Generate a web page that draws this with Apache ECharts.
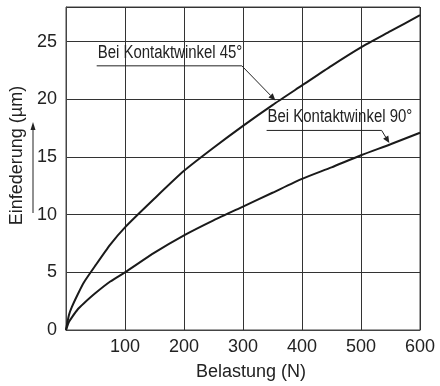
<!DOCTYPE html>
<html>
<head>
<meta charset="utf-8">
<script src="https://cdn.jsdelivr.net/npm/echarts@6/dist/echarts.min.js"></script>
<style>html,body{margin:0;padding:0;background:#fff;}#c{width:440px;height:386px;}</style>
</head>
<body>
<div id="c"></div>
<script>
// Data
const loads = [0, 5, 10, 20, 30, 50, 75, 100, 150, 200, 250, 300, 350, 400, 450, 500, 550, 600];
const angle45 = [0, 1.3, 2.0, 3.1, 4.1, 5.6, 7.4, 8.9, 11.4, 13.8, 15.8, 17.7, 19.5, 21.2, 22.9, 24.5, 25.9, 27.3];
const angle90 = [0, 0.7, 1.1, 1.8, 2.3, 3.2, 4.2, 5.0, 6.7, 8.2, 9.5, 10.7, 11.9, 13.1, 14.1, 15.15, 16.1, 17.1];
const seriesNames = ['Bei Kontaktwinkel 45°', 'Bei Kontaktwinkel 90°'];
const xTitle = 'Belastung (N)';
const yTitle = 'Einfederung (µm)';
// annotation anchors in data units: [underline start, underline end, arrow tip]
const ann45 = [[52, 22.9], [298, 22.9], [355, 19.9]];
const ann90 = [[340, 17.3], [535, 17.3], [548, 16.2]];

const chart = echarts.init(document.getElementById('c'));
const font = 'Liberation Sans, Arial, sans-serif';
const pair = (xs, ys) => xs.map((x, i) => [x, ys[i]]);

chart.setOption({
  animation: false,
  grid: { left: 66, right: 20, top: 7, bottom: 49, show: true, borderColor: '#444', borderWidth: 1 },
  xAxis: {
    type: 'value', min: 0, max: 600, interval: 100,
    name: xTitle, nameLocation: 'middle', nameGap: 33,
    nameTextStyle: { fontFamily: font, fontSize: 18, color: '#222', padding: [0, 0, 0, 16] },
    axisLine: { show: true, lineStyle: { color: '#444' } },
    axisTick: { show: false },
    axisLabel: { showMinLabel: false, fontFamily: font, fontSize: 18, color: '#222', margin: 8 },
    splitLine: { show: true, lineStyle: { color: '#333', width: 1 } }
  },
  yAxis: {
    type: 'value', min: 0, max: 28, interval: 5,
    name: yTitle, nameLocation: 'middle', nameGap: 39, nameRotate: 90,
    nameTextStyle: { fontFamily: font, fontSize: 18, color: '#222', padding: [0, 0, 0, 26] },
    axisLine: { show: true, lineStyle: { color: '#444' } },
    axisTick: { show: false },
    axisLabel: { showMaxLabel: false, fontFamily: font, fontSize: 18, color: '#222', margin: 9 },
    splitLine: { show: true, lineStyle: { color: '#333', width: 1 } }
  },
  series: [
    { name: seriesNames[0], type: 'line', data: pair(loads, angle45), smooth: 0.2, showSymbol: false,
      lineStyle: { color: '#1a1a1a', width: 2 } },
    { name: seriesNames[1], type: 'line', data: pair(loads, angle90), smooth: 0.2, showSymbol: false,
      lineStyle: { color: '#1a1a1a', width: 2 } }
  ]
});

function annotation(name, pts) {
  const p = pts.map(d => chart.convertToPixel({ gridIndex: 0 }, d));
  const [a, b, c] = p;
  const ang = Math.atan2(c[1] - b[1], c[0] - b[0]);
  const L = 7, W = 3;
  const bx = c[0] - L * Math.cos(ang), by = c[1] - L * Math.sin(ang);
  const nx = -Math.sin(ang) * W, ny = Math.cos(ang) * W;
  return [
    { type: 'polyline', shape: { points: [a, b, [bx, by]] }, style: { stroke: '#222', lineWidth: 1, fill: null } },
    { type: 'polygon', shape: { points: [c, [bx + nx, by + ny], [bx - nx, by - ny]] }, style: { fill: '#222' } },
    { type: 'text', x: a[0] + 1, y: a[1] - 4, scaleX: 0.83, scaleY: 1,
      style: { text: name, font: '18px "Liberation Sans", Arial, sans-serif', fill: '#222', textVerticalAlign: 'bottom' } }
  ];
}

chart.setOption({
  graphic: [].concat(
    annotation(seriesNames[0], ann45),
    annotation(seriesNames[1], ann90),
    [
      { type: 'line', shape: { x1: 33, y1: 213, x2: 33, y2: 129 }, style: { stroke: '#222', lineWidth: 1 } },
      { type: 'polygon', shape: { points: [[33, 122], [30.5, 130], [35.5, 130]] }, style: { fill: '#222' } }
    ]
  )
});
</script>
</body>
</html>
